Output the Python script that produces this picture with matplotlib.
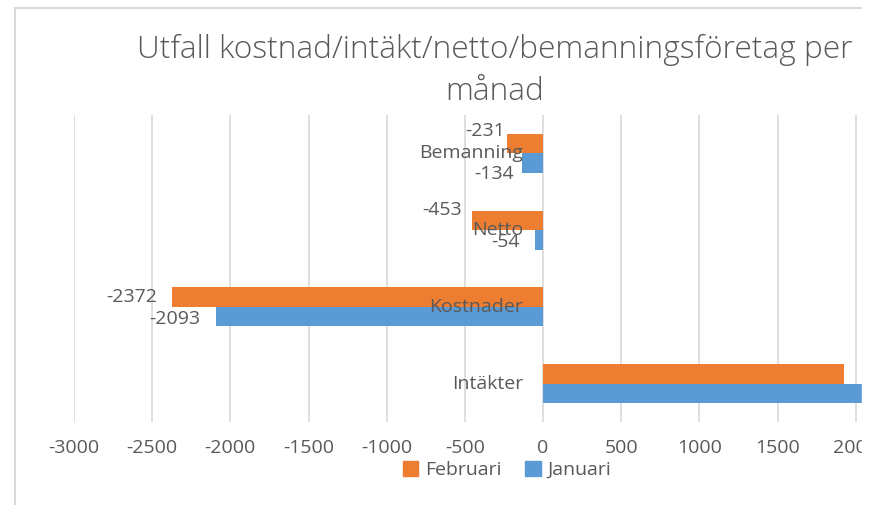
import numpy as np
import matplotlib
matplotlib.use('Agg')
import matplotlib.pyplot as plt
from matplotlib.patches import Rectangle, Patch
from matplotlib.lines import Line2D

plt.rcParams['font.family'] = ['Open Sans', 'DejaVu Sans']

# data
categories = ['Intäkter', 'Kostnader', 'Netto', 'Bemanning']
februari = [1925, -2372, -453, -231]
januari = [2150, -2093, -54, -134]
series_names = ['Februari', 'Januari']
xticks = np.arange(-3000, 2501, 500)

ORANGE = '#ED7D31'
BLUE = '#5B9BD5'
TEXT = '#595959'
GRID = '#D9D9D9'
FS = 14

W, H = 869, 505
fig = plt.figure(figsize=(W / 100, H / 100), dpi=100)

# plot area in pixels: left 74, right 934 (past the crop), top 115, bottom 422
ax = fig.add_axes([74 / W, (H - 422) / H, 860 / W, 307 / H])

y = np.arange(len(categories))
h = 0.254
ax.barh(y + h / 2, februari, height=h, color=ORANGE, zorder=3)
ax.barh(y - h / 2, januari, height=h, color=BLUE, zorder=3)

ax.set_xlim(-3000, 2500)
ax.set_ylim(-0.5, 3.5)
ax.set_xticks(xticks)
ax.set_xticklabels([str(v) for v in xticks])
ax.tick_params(axis='x', length=0, pad=12, labelsize=FS, labelcolor=TEXT)
ax.set_yticks([])
ax.grid(axis='x', color=GRID, linewidth=1.2, zorder=0)
for s in ax.spines.values():
    s.set_visible(False)

# category labels sit next to the zero axis
for yi, name in zip(y, categories):
    ax.annotate(name, (0, yi), xytext=(-20, 0), textcoords='offset pixels',
                ha='right', va='center', fontsize=FS, color=TEXT, zorder=5)

# data labels (manually placed in the original)
feb_off = [(15, 0), (-15, 0), (-10, 10), (-2, 13)]
jan_off = [(15, 0), (-16, -2), (-15, -2), (-8, -11)]
for yi, v, (dx, dy) in zip(y, februari, feb_off):
    ax.annotate(str(v), (v, yi + h / 2), xytext=(dx, dy), textcoords='offset pixels',
                ha='left' if v > 0 else 'right', va='center', fontsize=FS,
                color=TEXT, zorder=5)
for yi, v, (dx, dy) in zip(y, januari, jan_off):
    ax.annotate(str(v), (v, yi - h / 2), xytext=(dx, dy), textcoords='offset pixels',
                ha='left' if v > 0 else 'right', va='center', fontsize=FS,
                color=TEXT, zorder=5)

fig.text(495 / W, 1 - 50 / H, 'Utfall kostnad/intäkt/netto/bemanningsföretag per',
         ha='center', va='center', fontsize=22.8, color=TEXT, fontweight='light')
fig.text(495 / W, 1 - 92 / H, 'månad',
         ha='center', va='center', fontsize=22.8, color=TEXT, fontweight='light')

handles = [Patch(color=ORANGE), Patch(color=BLUE)]
fig.legend(handles, series_names, loc='center', bbox_to_anchor=(507 / W, 1 - 470 / H),
           ncol=2, frameon=False, fontsize=FS, labelcolor=TEXT,
           handlelength=0.8, handleheight=0.8, handletextpad=0.35, columnspacing=1.2)

# chart border (left + top) and the crop on the right
fig.add_artist(Line2D([15 / W, 15 / W], [0, 1 - 8 / H], color=GRID, lw=1.5,
                      transform=fig.transFigure))
fig.add_artist(Line2D([15 / W, 1], [1 - 8 / H, 1 - 8 / H], color=GRID, lw=1.5,
                      transform=fig.transFigure))
fig.add_artist(Rectangle((862 / W, 0), 1, 1, transform=fig.transFigure,
                         color='white', zorder=20))

fig.savefig('out.png', dpi=100)
